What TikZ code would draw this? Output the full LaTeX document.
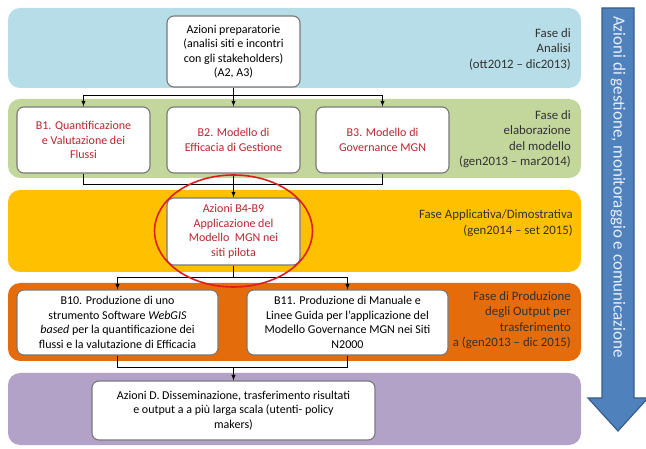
\documentclass[tikz,border=0pt]{standalone}
\usepackage{fontspec}
\setmainfont{Carlito}
\usetikzlibrary{positioning}
\usetikzlibrary{calc}
\usetikzlibrary{arrows}

\definecolor{bandblue}{RGB}{183,221,232}
\definecolor{bandgreen}{RGB}{195,214,155}
\definecolor{bandyellow}{RGB}{255,192,0}
\definecolor{bandorange}{RGB}{228,108,10}
\definecolor{bandpurple}{RGB}{179,162,199}
\definecolor{arrowblue}{RGB}{79,129,189}
\definecolor{arrowedge}{RGB}{56,93,138}
\definecolor{boxgray}{RGB}{120,120,120}
\definecolor{actred}{RGB}{185,38,48}
\definecolor{circlered}{RGB}{222,30,30}
\definecolor{fasetext}{RGB}{50,50,50}
\definecolor{arrowtext}{RGB}{232,240,250}

\begin{document}
\begin{tikzpicture}[x=1pt,y=-1pt,
  band/.style={rounded corners=12pt},
  box/.style={draw=boxgray, line width=1.1pt, fill=white, rounded corners=7pt,
    align=center, inner sep=2pt, font=\fontsize{12}{14.5}\selectfont},
  redbox/.style={box, text=actred},
  fase/.style={anchor=east, align=right, text=fasetext, inner sep=0pt,
    font=\fontsize{12.8}{15.5}\selectfont},
  link/.style={line width=0.9pt}]
\useasboundingbox (0,0) rectangle (646,449);

% fasce
\fill[band, bandblue] (8,8) rectangle (581,88);
\fill[band, bandgreen] (8,99) rectangle (581,178);
\fill[band, bandyellow] (8,190) rectangle (581,272);
\fill[band, bandorange] (8,283) rectangle (581,361);
\fill[band, bandpurple] (8,373) rectangle (581,445);

% freccia laterale
\filldraw[fill=arrowblue, draw=arrowedge, line width=1.2pt]
  (602,8) -- (634,8) -- (634,398) -- (648,398) -- (618,431)
  -- (588,398) -- (602,398) -- cycle;
\node[rotate=-90, text=arrowtext, font=\fontsize{17}{19}\selectfont](gestione) at (618,187){Azioni di gestione, monitoraggio e comunicazione};

% azioni
\node[box, minimum width=133pt, minimum height=71pt](A) at (233.5,51.5){Azioni preparatorie\\(analisi siti e incontri\\con gli stakeholders)\\(A2, A3)};
\node[redbox, minimum width=133pt, minimum height=66pt](B1) at (83.5,140){B1. Quantificazione\\e Valutazione dei\\Flussi};
\node[redbox, minimum width=133pt, minimum height=66pt](B2) at (233.5,140){B2. Modello di\\Efficacia di Gestione};
\node[redbox, minimum width=133pt, minimum height=66pt](B3) at (382.5,140){B3. Modello di\\Governance MGN};
\node[redbox, minimum width=133pt, minimum height=67pt](B4) at (233.5,231.5){Azioni B4-B9\\Applicazione del\\Modello\ \ MGN nei\\siti pilota};
\node[box, minimum width=201pt, minimum height=65pt](B10) at (117.5,322.5){B10. Produzione di uno\\strumento Software \textit{WebGIS}\\\textit{based} per la quantificazione dei\\flussi e la valutazione di Efficacia};
\node[box, minimum width=201pt, minimum height=65pt](B11) at (347.5,322.5){B11. Produzione di Manuale e\\Linee Guida per l’applicazione del\\Modello Governance MGN nei Siti\\N2000};
\node[box, minimum width=283pt, minimum height=59pt](D) at (233.5,410.5){Azioni D. Disseminazione, trasferimento risultati\\e output a a più larga scala (utenti- policy\\makers)};

% fasi
\node[fase](fA) at (571,49){Fase di\\Analisi\\(ott2012 – dic2013)};
\node[fase](fB) at (571,139){Fase di\\elaborazione\\del modello\\(gen2013 – mar2014)};
\node[fase](fC) at (573,223){Fase Applicativa/Dimostrativa\\(gen2014 – set 2015)};
\node[fase](fD) at (571,320){Fase di Produzione\\degli Output per\\trasferimento\\a (gen2013 – dic 2015)};

% collegamenti
\coordinate (jA) at (233.5,95);
\coordinate (jB) at (233.5,184);
\coordinate (jC) at (233.5,277);
\coordinate (jD) at (233.5,367);
\draw[link] (A) -- (jA);
\draw[link,-latex] (jA) -| (B1);
\draw[link,-latex] (jA) -| (B3);
\draw[link,-latex] (jA) -- (B2);
\draw[link] (B1) |- (jB);
\draw[link] (B3) |- (jB);
\draw[link,-latex] (B2) -- (B4);
\draw[link] (B4) -- (jC);
\draw[link,-latex] (jC) -| (B10);
\draw[link,-latex] (jC) -| (B11);
\draw[link] (B10) |- (jD);
\draw[link] (B11) |- (jD);
\draw[link,-latex] (jD) -- (D);

% evidenziazione
\draw[circlered, line width=1.6pt] (233.5,231) ellipse (79 and 56);
\end{tikzpicture}
\end{document}
